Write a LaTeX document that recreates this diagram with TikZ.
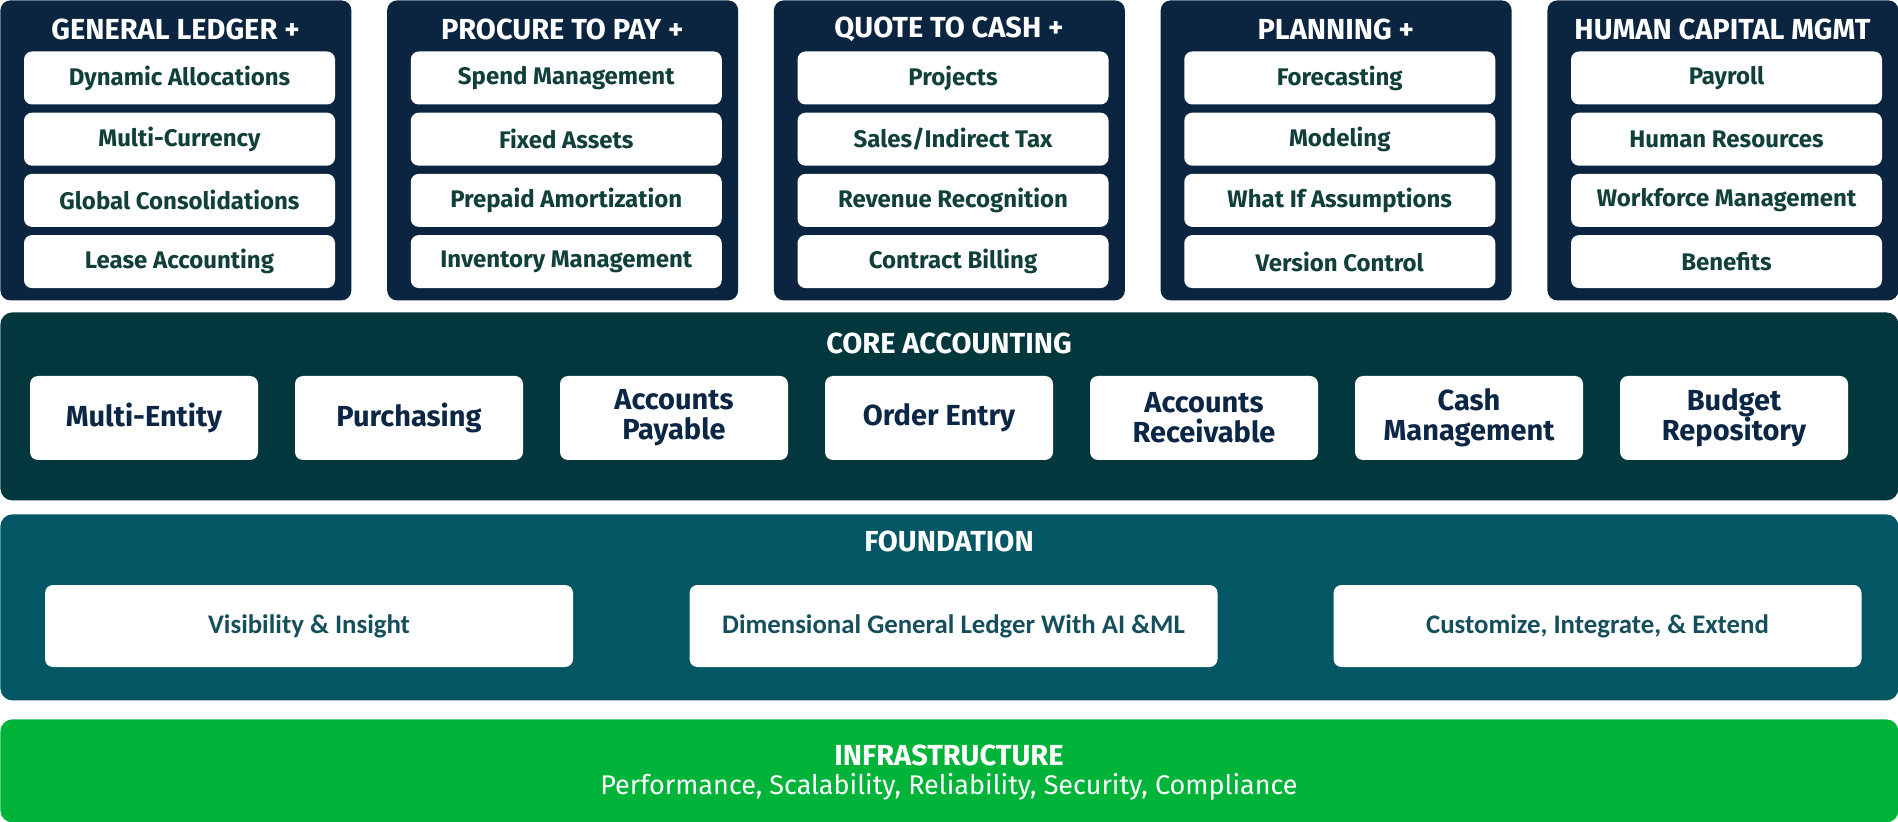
\documentclass[tikz,border=0pt]{standalone}
\usepackage{fontspec}
\setmainfont{Fira Sans}
\newfontfamily\carlito{Carlito}

\definecolor{navy}{HTML}{0B2541}
\definecolor{coreteal}{HTML}{03373E}
\definecolor{foundteal}{HTML}{035764}
\definecolor{infragreen}{HTML}{00B439}
\definecolor{itemtext}{HTML}{113F3A}
\definecolor{coretext}{HTML}{0C2646}
\definecolor{foundtext}{HTML}{154E5C}

\tikzset{
  panel/.style={fill=navy, rounded corners=5pt, anchor=north west, inner sep=0pt,
    minimum width=175.5pt, minimum height=150pt},
  paneltitle/.style={text=white, font=\bfseries\fontsize{14.5}{16}\selectfont},
  item/.style={fill=white, rounded corners=4pt, inner sep=0pt, text=itemtext,
    minimum width=155.5pt, minimum height=26.5pt, font=\bfseries\fontsize{12}{13}\selectfont},
  layer/.style={rounded corners=6pt, anchor=north west, inner sep=0pt, minimum width=949pt},
  corebox/.style={fill=white, rounded corners=4pt, inner sep=0pt, text=coretext, align=center,
    minimum width=114pt, minimum height=42pt, font=\bfseries\fontsize{14.5}{15}\selectfont},
  foundbox/.style={fill=white, rounded corners=4pt, inner sep=0pt, text=foundtext,
    minimum width=264pt, minimum height=41pt, font=\carlito\bfseries\fontsize{13.4}{15}\selectfont}
}

\begin{document}
\begin{tikzpicture}[x=0.5pt, y=-0.5pt]
\useasboundingbox (0,0) rectangle (1898,822);

% Modules
\foreach \i/\n/\t/\a/\b/\c/\d in {
  0/gl/GENERAL LEDGER +/Dynamic Allocations/Multi-Currency/Global Consolidations/Lease Accounting,
  1/ptp/PROCURE TO PAY +/Spend Management/Fixed Assets/Prepaid Amortization/Inventory Management,
  2/qtc/QUOTE TO CASH +/Projects/{Sales/Indirect Tax}/Revenue Recognition/Contract Billing,
  3/plan/PLANNING +/Forecasting/Modeling/What If Assumptions/Version Control,
  4/hcm/HUMAN CAPITAL MGMT/Payroll/Human Resources/Workforce Management/Benefits} {
  \node[panel] (\n) at ({386.75*\i},0) {};
  \node[paneltitle] (\n-title) at ({386.75*\i+175.5},29) {\t};
  \foreach \txt [count=\k from 0] in {\a,\b,\c,\d}
    \node[item] (\n-\k) at ({386.75*\i+179.5},{78+61.2*\k}) {\txt};
}

% Core accounting
\node[layer, fill=coreteal, minimum height=94pt] (core) at (0,312) {};
\node[paneltitle] (core-title) at (949,343) {CORE ACCOUNTING};
\foreach \txt [count=\k from 0] in {Multi-Entity, Purchasing, Accounts\\Payable, Order Entry,
    Accounts\\Receivable, Cash\\Management, Budget\\Repository}
  \node[corebox] (core-\k) at ({144+265*\k},418) {\txt};

% Foundation
\node[layer, fill=foundteal, minimum height=93pt] (found) at (0,514) {};
\node[paneltitle] (found-title) at (949,541) {FOUNDATION};
\foreach \x/\txt [count=\k from 0] in {309/Visibility \& Insight,
    953.5/Dimensional General Ledger With AI \&ML, 1597.5/{Customize, Integrate, \& Extend}}
  \node[foundbox] (found-\k) at (\x,626) {\txt};

% Infrastructure
\node[layer, fill=infragreen, minimum height=51.5pt] (infra) at (0,719) {};
\node[paneltitle] (infra-title) at (949,755) {INFRASTRUCTURE};
\node[text=white, font=\fontsize{13.5}{15}\selectfont] (infra-sub) at (949,787)
  {Performance, Scalability, Reliability, Security, Compliance};

\end{tikzpicture}
\end{document}
